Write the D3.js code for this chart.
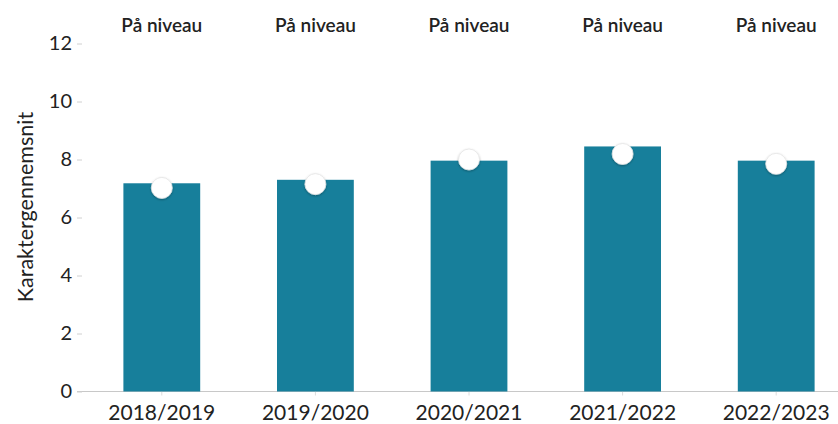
<!DOCTYPE html>
<html>
<head>
<meta charset="utf-8">
<script src="https://cdn.jsdelivr.net/npm/d3@7"></script>
<style>
    body { margin: 0; background: #fff; }
    text { font-family: Lato, "Open Sans", sans-serif; fill: #222; }
</style>
</head>
<body>
<div id="chart"></div>
<script>
// data
const years = ['2018/2019', '2019/2020', '2020/2021', '2021/2022', '2022/2023'];
const averages = [7.18, 7.3, 7.96, 8.45, 7.96];
const benchmark = [7.02, 7.15, 8.0, 8.19, 7.85];
const levelLabels = ['På niveau', 'På niveau', 'På niveau', 'På niveau', 'På niveau'];
const yTicks = [0, 2, 4, 6, 8, 10, 12];

const width = 838;
const height = 424;
const margin = { top: 43.5, right: -15, bottom: 32.5, left: 85 };

const svg = d3.select('#chart')
    .append('svg')
    .attr('width', width)
    .attr('height', height);

// scales
const x = d3.scaleBand()
    .domain(years)
    .range([margin.left, width - margin.right])
    .paddingInner(0.5)
    .paddingOuter(0.25);

const y = d3.scaleLinear()
    .domain([0, 12])
    .range([height - margin.bottom, margin.top]);

// x axis
const xAxis = svg.append('g')
    .attr('transform', `translate(0, ${y(0)})`)
    .call(d3.axisBottom(x).tickSize(4).tickSizeOuter(0));
xAxis.select('.domain').attr('stroke', '#c8c8c8').attr('d', `M77,0H${width}`);
xAxis.selectAll('.tick line').attr('stroke', '#dcdcdc');
xAxis.selectAll('.tick text')
    .attr('dy', '1.0em')
    .style('font-size', '21px')
    .style('fill', '#222');

// y axis
const yAxis = svg.append('g')
    .attr('transform', `translate(82, 0)`)
    .call(d3.axisLeft(y).tickValues(yTicks).tickSize(5).tickPadding(5));
yAxis.select('.domain').remove();
yAxis.selectAll('.tick line').attr('stroke', '#d0d0d0');
yAxis.selectAll('.tick text')
    .style('font-size', '20px')
    .style('fill', '#222');

// y title
svg.append('text')
    .attr('transform', `translate(33, 207) rotate(-90)`)
    .attr('text-anchor', 'middle')
    .style('font-size', '21.5px')
    .text('Karaktergennemsnit');

// bars
svg.selectAll('.bar')
    .data(years)
    .enter()
    .append('rect')
    .attr('class', 'bar')
    .attr('x', d => x(d))
    .attr('width', x.bandwidth())
    .attr('y', (d, i) => y(averages[i]))
    .attr('height', (d, i) => y(0) - y(averages[i]))
    .attr('fill', '#177f9b');

// shadow for the dots
const defs = svg.append('defs');
const filter = defs.append('filter').attr('id', 'shadow')
    .attr('x', '-50%').attr('y', '-50%').attr('width', '200%').attr('height', '200%');
filter.append('feDropShadow')
    .attr('dx', 0).attr('dy', 1).attr('stdDeviation', 1.2)
    .attr('flood-color', '#000').attr('flood-opacity', 0.3);

svg.selectAll('.dot')
    .data(years)
    .enter()
    .append('circle')
    .attr('class', 'dot')
    .attr('cx', d => x(d) + x.bandwidth() / 2)
    .attr('cy', (d, i) => y(benchmark[i]))
    .attr('r', 10.5)
    .attr('fill', '#fff')
    .attr('stroke', '#e4e4e4')
    .attr('stroke-width', 0.8)
    .attr('filter', 'url(#shadow)');

// top labels
svg.selectAll('.level')
    .data(years)
    .enter()
    .append('text')
    .attr('class', 'level')
    .attr('x', d => x(d) + x.bandwidth() / 2)
    .attr('y', 31.5)
    .attr('text-anchor', 'middle')
    .style('font-size', '19px')
    .style('font-weight', 600)
    .text((d, i) => levelLabels[i]);
</script>
</body>
</html>
